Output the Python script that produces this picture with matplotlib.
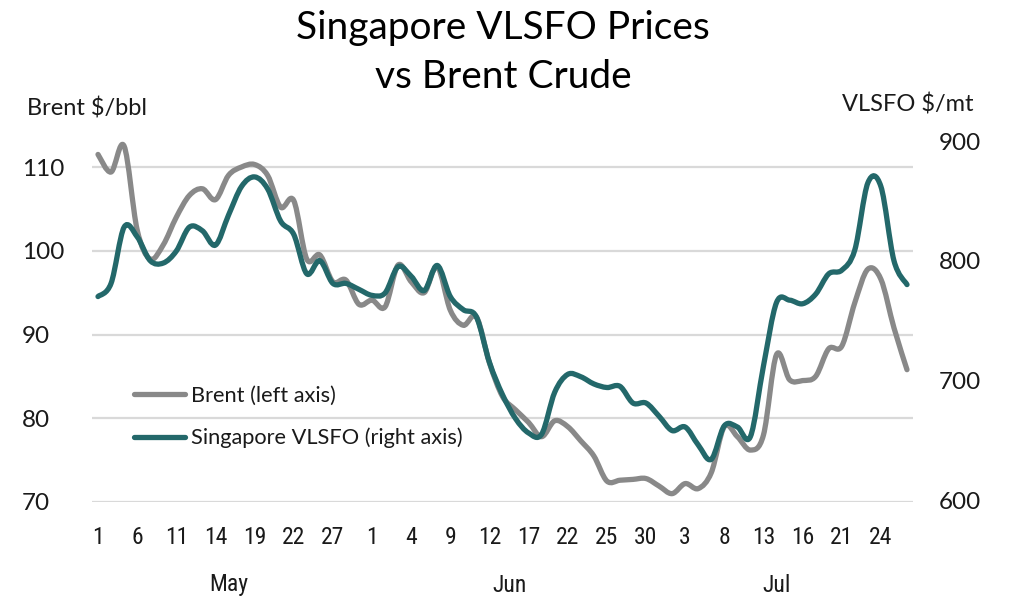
import matplotlib
matplotlib.use("Agg")
import matplotlib.pyplot as plt
from matplotlib import font_manager as fm
from matplotlib.path import Path
from matplotlib.patches import PathPatch
from matplotlib.lines import Line2D

# ---------------- data ----------------
day_labels = ["1", "6", "11", "14", "19", "22", "27",
              "1", "4", "9", "12", "17", "22", "25", "30",
              "3", "8", "13", "16", "21", "24"]
months = ["May", "Jun", "Jul"]
month_first_idx = [0, 21, 42]
month_last_idx = [20, 42, 62]

brent = [111.5, 109.4, 112.5, 102.5, 99.0, 100.7, 104.0, 106.6, 107.4, 106.1,
         109.0, 110.0, 110.3, 109.0, 105.2, 106.0, 99.0, 99.5, 96.3, 96.5,
         93.6, 94.1, 93.3, 98.3, 96.3, 95.0, 98.1, 92.9, 91.1, 92.1,
         86.6, 82.6, 81.0, 79.5, 77.8, 79.7, 79.0, 77.3, 75.5, 72.5,
         72.6, 72.7, 72.8, 71.9, 71.0, 72.2, 71.6, 73.5, 79.0, 77.8,
         76.2, 78.0, 87.6, 84.6, 84.5, 85.0, 88.3, 88.6, 93.8, 97.8,
         96.6, 90.8, 85.8]

vlsfo = [770, 781, 828, 820, 800, 798, 808, 828, 825, 813,
         838, 862, 870, 860, 833, 822, 789, 800, 781, 781,
         776, 771, 773, 795, 787, 775, 796, 770, 759, 753,
         715, 688, 668, 656, 655, 690, 705, 703, 697, 694,
         695, 681, 681, 670, 658, 661, 646, 634, 662, 661,
         653, 712, 765, 767, 764, 772, 789, 792, 809, 865,
         862, 800, 780]

left_ticks = [70, 80, 90, 100, 110]
right_ticks = [600, 700, 800, 900]

# ---------------- style ----------------
avail = {f.name for f in fm.fontManager.ttflist}
def pick(*names):
    for n in names:
        if n in avail:
            return n
    return "DejaVu Sans"

main_font = pick("Lato", "Noto Sans", "DejaVu Sans")
narrow_font = pick("Liberation Sans Narrow", "Roboto Condensed", "Roboto", "DejaVu Sans")
plt.rcParams["font.family"] = [main_font, "DejaVu Sans"]

GRAY = "#898989"
TEAL = "#23686A"
GRID = "#D9D9D9"
TXT = "#1a1a1a"
LW = 3.8


def smooth_line(axis, xs, ys, color):
    """Draw a smoothed (Excel-style Catmull-Rom Bezier) line through the data."""
    n = len(xs)
    verts = [(xs[0], ys[0])]
    codes = [Path.MOVETO]
    for i in range(n - 1):
        x0, y0 = xs[max(i - 1, 0)], ys[max(i - 1, 0)]
        x1, y1 = xs[i], ys[i]
        x2, y2 = xs[i + 1], ys[i + 1]
        x3, y3 = xs[min(i + 2, n - 1)], ys[min(i + 2, n - 1)]
        c1 = (x1 + (x2 - x0) / 6, y1 + (y2 - y0) / 6)
        c2 = (x2 - (x3 - x1) / 6, y2 - (y3 - y1) / 6)
        verts += [c1, c2, (x2, y2)]
        codes += [Path.CURVE4] * 3
    patch = PathPatch(Path(verts, codes), facecolor="none", edgecolor=color,
                      lw=LW, joinstyle="round", capstyle="round", zorder=3)
    axis.add_patch(patch)


W, H = 1024, 613
fig = plt.figure(figsize=(W / 100, H / 100), dpi=100)
ax_l, ax_r, ax_t, ax_b = 92, 913, 141, 502
ax = fig.add_axes([ax_l / W, 1 - ax_b / H, (ax_r - ax_l) / W, (ax_b - ax_t) / H])
ax2 = ax.twinx()

x = list(range(len(brent)))
smooth_line(ax, x, brent, GRAY)
smooth_line(ax2, x, vlsfo, TEAL)

ax.set_xlim(-0.46, len(brent) - 1 + 0.46)
ax.set_ylim(70, 70 + (ax_b - ax_t) / 8.375)
ax2.set_ylim(600 - 2 / 1.1967, 900)

ax.set_yticks(left_ticks)
ax2.set_yticks(right_ticks)
ax.yaxis.grid(True, color=GRID, lw=1.6)
ax.set_axisbelow(True)

for a in (ax, ax2):
    for s in a.spines.values():
        s.set_visible(False)

ax.tick_params(axis="y", length=0, labelsize=17.5, labelcolor=TXT, pad=50.4)
for lab in ax.get_yticklabels():
    lab.set_horizontalalignment("left")
ax2.tick_params(axis="y", length=0, labelsize=17.5, labelcolor=TXT, pad=18.5)

tick_pos = list(range(0, len(brent), 3))[:len(day_labels)]
ax.set_xticks(tick_pos)
ax.set_xticklabels(day_labels, fontfamily=[narrow_font, "DejaVu Sans"])
ax.tick_params(axis="x", length=0, labelsize=17, labelcolor=TXT, pad=17)

trans = ax.get_xaxis_transform()
for m, a0, a1 in zip(months, month_first_idx, month_last_idx):
    ax.text((a0 + a1) / 2, (ax_b - 585) / (ax_b - ax_t), m, transform=trans,
            ha="center", va="center", fontsize=17, color=TXT,
            fontfamily=[narrow_font, "DejaVu Sans"])

# titles and axis titles
fig.text(503 / W, 1 - 28 / H, "Singapore VLSFO Prices", ha="center", va="center",
         fontsize=28, color="black")
fig.text(503 / W, 1 - 77 / H, "vs Brent Crude", ha="center", va="center",
         fontsize=28, color="black")
fig.text(27 / W, 1 - 108 / H, "Brent $/bbl", ha="left", va="center",
         fontsize=17, color=TXT)
fig.text(974 / W, 1 - 105 / H, "VLSFO $/mt", ha="right", va="center",
         fontsize=17, color=TXT)

handles = [Line2D([], [], color=GRAY, lw=LW, solid_capstyle="round"),
           Line2D([], [], color=TEAL, lw=LW, solid_capstyle="round")]
labels = ["Brent (left axis)", "Singapore VLSFO (right axis)"]
leg = ax2.legend(handles, labels, loc="upper left",
                 bbox_to_anchor=(134 / W, 1 - 386 / H), bbox_transform=fig.transFigure,
                 frameon=False, fontsize=15.7, handlelength=2.35, handletextpad=0.25,
                 labelspacing=1.0, borderpad=0, borderaxespad=0)
for t in leg.get_texts():
    t.set_color(TXT)

fig.savefig("out.png", dpi=100, facecolor="white")
